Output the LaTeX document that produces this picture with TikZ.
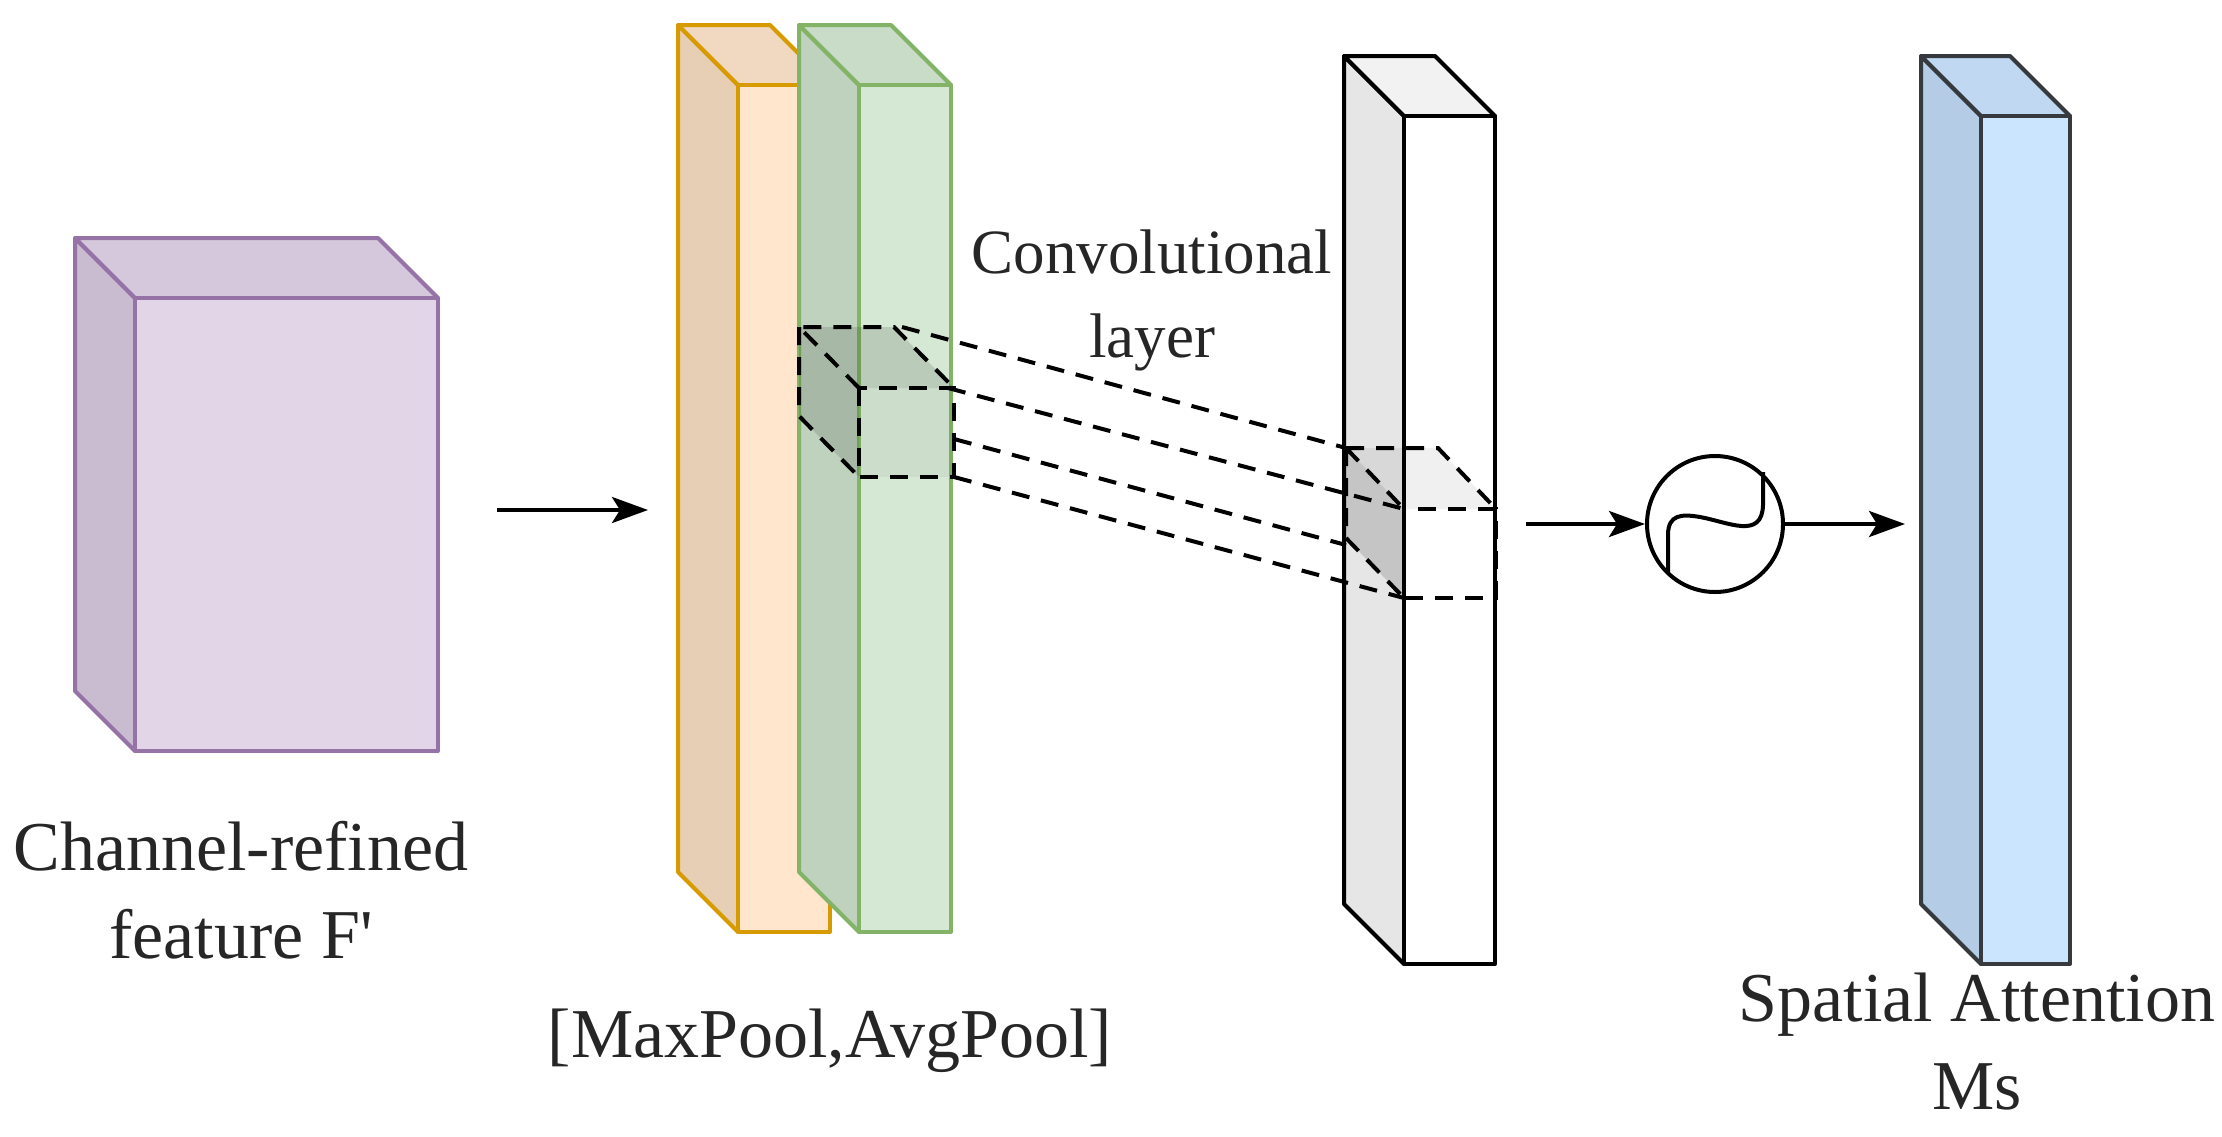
\documentclass[tikz,border=0pt]{standalone}
\usepackage{fontspec}
\setmainfont{Liberation Serif}
\usetikzlibrary{arrows.meta}
\newcommand\mycube[8]{%
  \filldraw[fill=#6,draw=#8,line width=4pt,line join=round] (#1,#2)--(#1-60,#2-60)--(#1-60,#4-60)--(#1,#4)--cycle;
  \filldraw[fill=#7,draw=#8,line width=4pt,line join=round] (#1,#2)--(#1-60,#2-60)--(#3-60,#2-60)--(#3,#2)--cycle;
  \filldraw[fill=#5,draw=#8,line width=4pt,line join=round] (#1,#2) rectangle (#3,#4);}
\begin{document}
\begin{tikzpicture}[x=1pt,y=-1pt,
  lbl/.style={font=\fontsize{70}{88}\selectfont, align=center, text=black!85},
  arr/.style={-{Stealth[length=36pt,width=26pt,inset=8pt]}, line width=4pt},
  dsh/.style={dashed, dash pattern=on 18pt off 12pt, line width=4pt}]
\useasboundingbox (0,0) rectangle (2222,1136);
\fill[white] (0,0) rectangle (2222,1136);
\definecolor{pf}{HTML}{E1D5E7}\definecolor{ps}{HTML}{C9BBD0}\definecolor{pt}{HTML}{D6C8DC}\definecolor{pd}{HTML}{9673A6}
\definecolor{of}{HTML}{FFE6CC}\definecolor{os}{HTML}{E6CFB5}\definecolor{ot}{HTML}{F0D9C0}\definecolor{od}{HTML}{D79B00}
\definecolor{gf}{HTML}{D5E8D4}\definecolor{gs}{HTML}{BFD2BE}\definecolor{gt}{HTML}{C9DCC8}\definecolor{gd}{HTML}{82B366}
\definecolor{wf}{HTML}{FFFFFF}\definecolor{ws}{HTML}{E6E6E6}\definecolor{wt}{HTML}{F2F2F2}
\definecolor{bf}{HTML}{CCE5FF}\definecolor{bs}{HTML}{B5CCE6}\definecolor{bt}{HTML}{C0D8F2}\definecolor{bd}{HTML}{36393D}
\mycube{135}{298}{438}{751}{pf}{ps}{pt}{pd}
\mycube{738}{85}{830}{932}{of}{os}{ot}{od}
\mycube{859}{85}{951}{932}{gf}{gs}{gt}{gd}
\mycube{1404}{116}{1495}{964}{wf}{ws}{wt}{black}
\mycube{1981}{116}{2070}{964}{bf}{bs}{bt}{bd}
% source dashed cube
\fill[black,opacity=0.12] (859,388)--(799,327)--(894,327)--(954,388)--cycle;
\fill[black,opacity=0.12] (859,388)--(799,327)--(799,416)--(859,477)--cycle;
\fill[black,opacity=0.04] (859,388) rectangle (954,477);
\draw[dsh] (859,388)--(799,327)--(894,327)--(954,388) (799,327)--(799,416)--(859,477);
\draw[dsh] (859,388) rectangle (954,477);
% target dashed cube
\fill[black,opacity=0.06] (1404,509)--(1346,448)--(1438,448)--(1496,509)--cycle;
\fill[black,opacity=0.14] (1404,509)--(1346,448)--(1346,538)--(1404,598)--cycle;
\draw[dsh] (1346,448)--(1438,448)--(1496,509) (1346,448)--(1346,538)--(1404,598) (1346,448)--(1404,509);
\draw[dsh] (1404,509) rectangle (1496,598);
% connecting lines
\coordinate (s1) at (902,327); \coordinate (t1) at (1346,448);
\coordinate (s2) at (948,388); \coordinate (t2) at (1404,509);
\coordinate (s3) at (954,439); \coordinate (t3) at (1346,545);
\coordinate (s4) at (954,477); \coordinate (t4) at (1404,598);
\draw[dsh] (s1)--(t1) (s2)--(t2) (s3)--(t3) (s4)--(t4);
% arrows
\coordinate (a1) at (497,510); \coordinate (a2) at (648,510);
\draw[arr] (a1)--(a2);
\node[circle,draw,line width=4pt,minimum size=136pt,inner sep=0pt] (sig) at (1715,524) {};
\coordinate (b1) at (1526,524); \coordinate (c2) at (1905,524);
\draw[arr] (b1)--(sig.west);
\draw[arr] (sig.east)--(c2);
\draw[line width=4pt] (1668,572)--(1668,535) .. controls (1668,514) and (1682,514) .. (1700,517) .. controls (1728,522) and (1762,540) .. (1763,505) -- (1763,472);
% labels
\node[lbl] (l1) at (241,890) {Channel-refined\\feature F\textquotesingle};
\node[lbl] (l2) at (830,1041) {[MaxPool,AvgPool]};
\node[lbl,font=\fontsize{63}{84}\selectfont] (l3) at (1152,300) {Convolutional\\layer};
\node[lbl] (l4) at (1977,1042) {Spatial Attention\\Ms};
\end{tikzpicture}
\end{document}
